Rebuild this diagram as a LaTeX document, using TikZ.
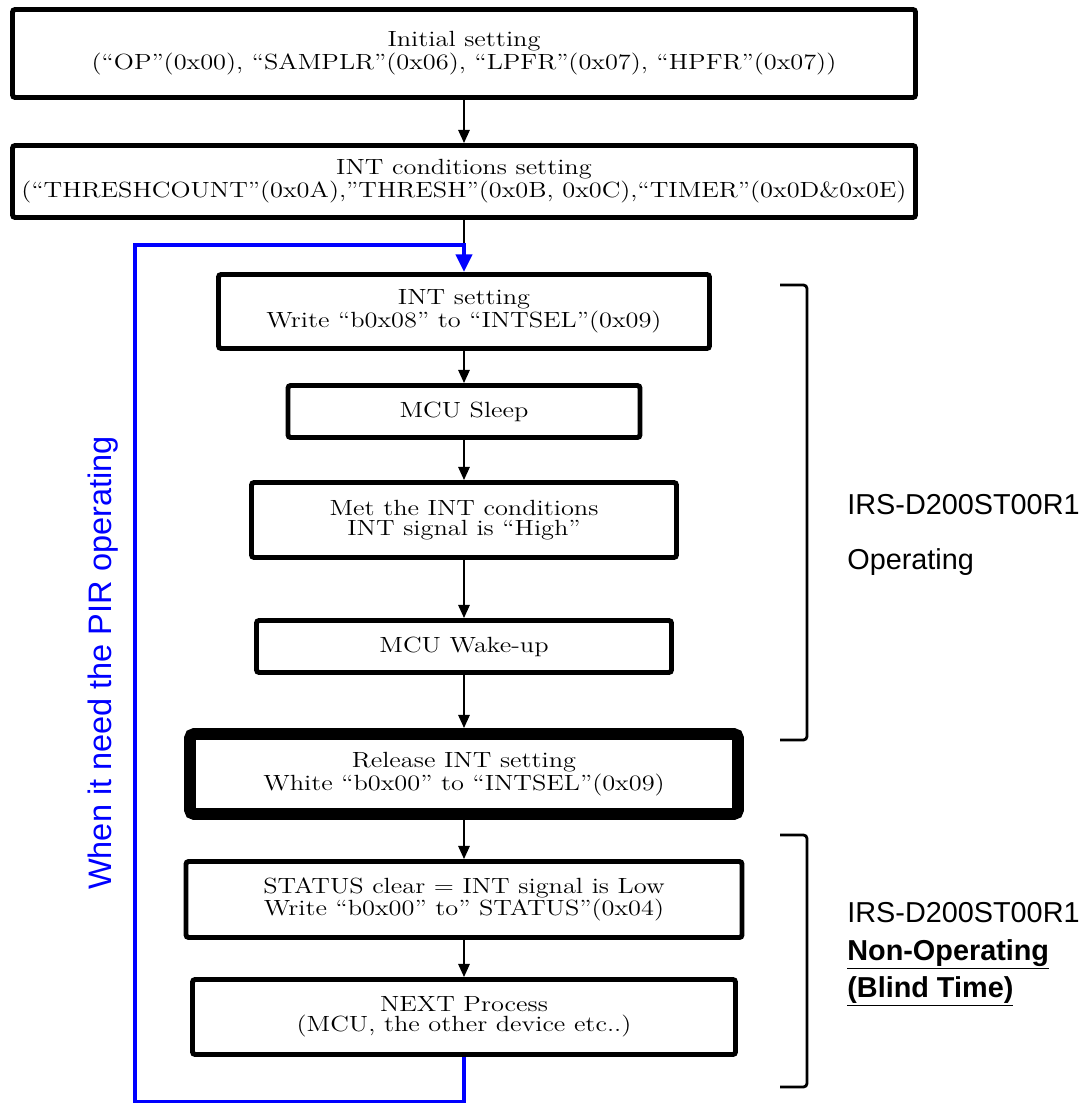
\documentclass[tikz,border=0pt]{standalone}
\usepackage{fontspec}
\newfontfamily\boxfont{Latin Modern Roman}[FakeStretch=1.2]
\newfontfamily\sidefont{Liberation Sans}
\usetikzlibrary{arrows.meta}

\tikzset{
  stepbox/.style 2 args={draw, line width=2.8pt, rounded corners=1.5pt, align=center,
    font=\boxfont\fontsize{12.5}{11.6}\selectfont, inner sep=1pt,
    minimum width=#1*0.2mm, minimum height=#2*0.2mm},
  flow/.style={line width=1.1pt, -{Triangle[length=7.5pt,width=6.5pt]}},
  backline/.style={blue, line width=2.8pt, -{Triangle[length=10pt,width=9pt]}},
  bracket/.style={line width=1.6pt, rounded corners=2pt},
  sidelabel/.style={anchor=base west, inner sep=0pt, font=\sidefont\fontsize{16.4}{18}\selectfont},
}

\begin{document}
\begin{tikzpicture}[x=0.2mm, y=-0.2mm]
    \useasboundingbox (0,0) rectangle (1086,1103);

    % Setting boxes
    \node[stepbox={903}{88}] (init) at (464,53.5)
        {Initial setting\\(“OP”(0x00), “SAMPLR”(0x06), “LPFR”(0x07), “HPFR”(0x07))};
    \node[stepbox={903}{72}] (cond) at (464,181.5)
        {INT conditions setting\\(“THRESHCOUNT”(0x0A),”THRESH”(0x0B, 0x0C),“TIMER”(0x0D\&0x0E)};

    % Operating part
    \node[stepbox={491}{74}] (intset) at (464,311.5)
        {INT setting\\Write “b0x08” to “INTSEL”(0x09)};
    \node[stepbox={352}{52}] (sleep) at (464,411.5) {MCU Sleep};
    \node[stepbox={425}{75}] (met) at (464,520)
        {Met the INT conditions\\INT signal is “High”};
    \node[stepbox={415}{52}] (wake) at (464,646.5) {MCU Wake-up};
    \node[stepbox={548}{80}, line width=6.8pt, rounded corners=2.5pt] (release) at (464,774)
        {Release INT setting\\White “b0x00” to “INTSEL”(0x09)};

    % Non-operating part
    \node[stepbox={556}{76}] (status) at (464,899.5)
        {STATUS clear = INT signal is Low\\Write “b0x00” to” STATUS”(0x04)};
    \node[stepbox={543}{75}] (next) at (464,1017)
        {NEXT Process\\(MCU, the other device etc..)};

    % Flow arrows
    \foreach \a/\b in {init/cond, intset/sleep, sleep/met, met/wake, wake/release, release/status, status/next} {
        \draw[flow] (\a) -- (\b);
    }

    % Loop back
    \coordinate (join) at (464,245);
    \coordinate (lb) at (135,1102);
    \coordinate (lt) at (135,245);
    \draw[line width=1.1pt] (cond) -- (join);
    \draw[backline] (next.south) |- (lb) -- (lt) -- (join) -- (intset.north);
    \node[blue, rotate=90, anchor=base, inner sep=0pt, font=\sidefont\fontsize{18.5}{20}\selectfont]
        (pirtext) at (111,663) {When it need the PIR operating};

    % Brackets
    \draw[bracket] (780,285) -- (807,285) -- (807,740) -- (780,740);
    \draw[bracket] (780,835) -- (807,835) -- (807,1087) -- (780,1087);

    % Bracket labels
    \node[sidelabel] (opA) at (847,514) {IRS-D200ST00R1};
    \node[sidelabel] (opB) at (847,569) {Operating};
    \node[sidelabel] (nopA) at (847,922) {IRS-D200ST00R1};
    \node[sidelabel] (nopB) at (847,960) {\underline{\textbf{Non-Operating}}};
    \node[sidelabel] (nopC) at (847,997) {\underline{\textbf{(Blind Time)}}};
\end{tikzpicture}
\end{document}
